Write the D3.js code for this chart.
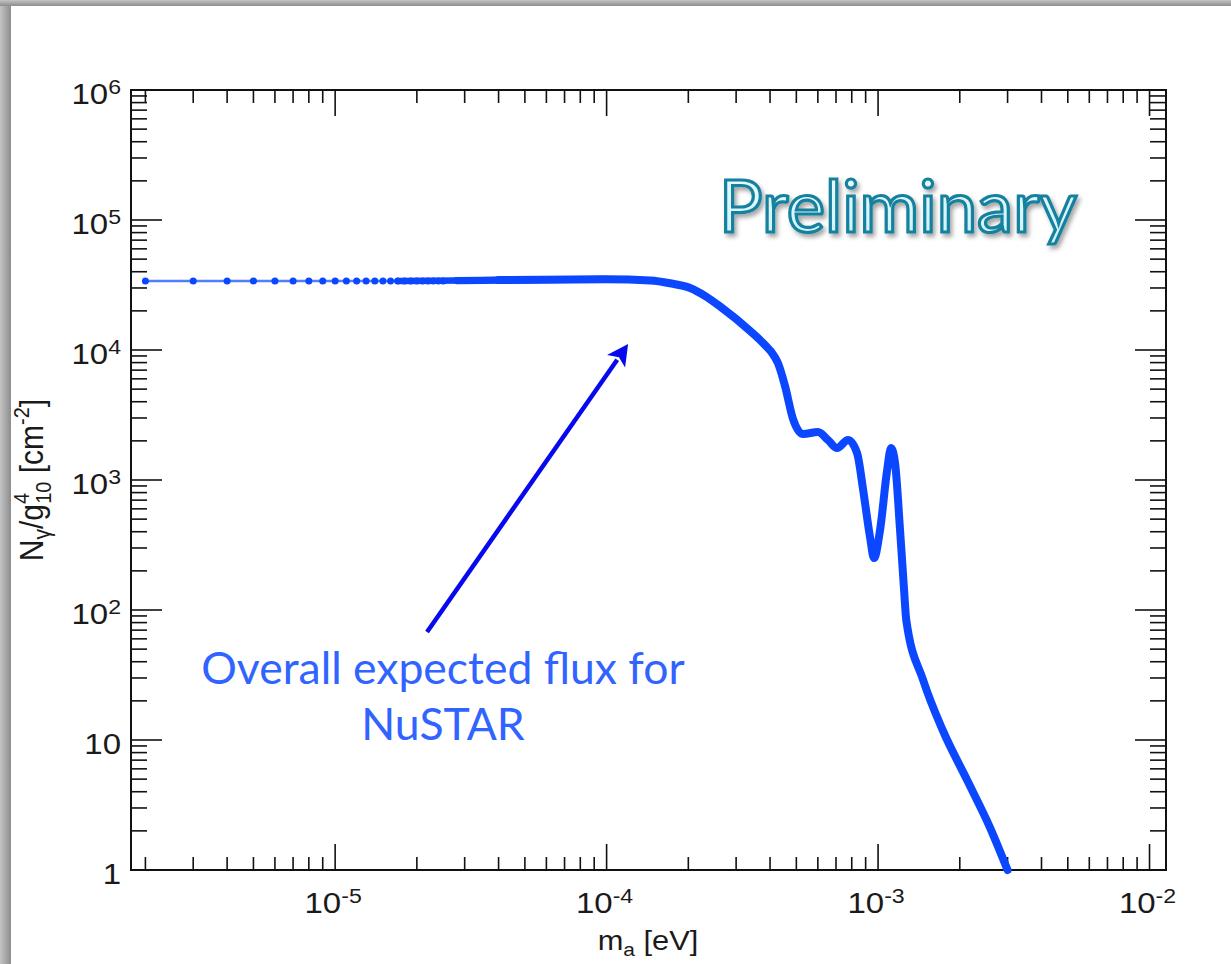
<!DOCTYPE html>
<html>
<head>
<meta charset="utf-8">
<script src="https://cdn.jsdelivr.net/npm/d3@7"></script>
<style>
  html, body { margin: 0; padding: 0; background: #b0b0b0; }
  svg { display: block; }
</style>
</head>
<body>
<svg id="chart" width="1231" height="964"></svg>
<script>
// ---------------- data ----------------
// individual sampled points (visible as separate markers at low mass)
const dotMass = [2e-6, 3e-6, 4e-6, 5e-6, 6e-6, 7e-6, 8e-6, 9e-6, 1e-5, 1.1e-5, 1.2e-5,
                 1.3e-5, 1.4e-5, 1.5e-5, 1.6e-5, 1.7e-5, 1.8e-5, 1.9e-5, 2.0e-5, 2.1e-5,
                 2.2e-5, 2.3e-5, 2.4e-5, 2.5e-5];
const dotFlux = [3.4e4, 3.4e4, 3.4e4, 3.4e4, 3.4e4, 3.4e4, 3.4e4, 3.4e4, 3.4e4, 3.4e4, 3.4e4,
                 3.4e4, 3.4e4, 3.4e4, 3.4e4, 3.4e4, 3.4e4, 3.4e4, 3.4e4, 3.4e4,
                 3.4e4, 3.4e4, 3.4e4, 3.4e4];
// dense part of the curve (markers merge into a thick line)
const curveMass = [1.7e-5, 2.8e-5, 4e-5, 1e-4, 1.45e-4, 1.71e-4, 2.03e-4, 2.31e-4, 2.62e-4, 3.38e-4,
                   3.77e-4, 4.17e-4, 4.28e-4, 4.54e-4, 4.86e-4, 5.29e-4, 6.01e-4, 6.54e-4, 7.06e-4,
                   7.75e-4, 8.37e-4, 8.81e-4, 9.34e-4, 9.66e-4, 1.017e-3, 1.08e-3, 1.116e-3,
                   1.155e-3, 1.205e-3, 1.247e-3, 1.27e-3, 1.465e-3, 1.73e-3, 2.13e-3, 2.58e-3, 3.0e-3];
const curveFlux = [3.4e4, 3.42e4, 3.45e4, 3.5e4, 3.42e4, 3.26e4, 3.0e4, 2.6e4, 2.16e4, 1.40e4,
                   1.13e4, 8.8e3, 7.9e3, 5.3e3, 2.95e3, 2.26e3, 2.34e3, 2.03e3, 1.76e3,
                   2.03e3, 1.61e3, 840, 364, 251, 412, 1190, 1760,
                   1350, 412, 142, 84, 29, 11.9, 4.9, 2.14, 1];
const xDomain = [1.77e-6, 1.15e-2];
const yDomain = [1, 1e6];
const xTickExps = [-5, -4, -3, -2];
const yTickValues = [1, 10, 1e2, 1e3, 1e4, 1e5, 1e6];
const yTickBase = ["1", "10", "10", "10", "10", "10", "10"];
const yTickSup  = ["", "", "2", "3", "4", "5", "6"];
const arrowFrom = [2.18e-5, 67.7];
const arrowTo   = [1.2e-4, 1.11e4];
const noteLines = ["Overall expected flux for", "NuSTAR"];
const stampText = "Preliminary";

// ---------------- layout ----------------
const L = 131, R = 1166, T = 90, B = 870;
const svg = d3.select("#chart");
const defs = svg.append("defs");

// frame
const gL = defs.append("linearGradient").attr("id", "gl").attr("x1", 0).attr("x2", 1).attr("y1", 0).attr("y2", 0);
gL.append("stop").attr("offset", 0).attr("stop-color", "#c4c4c4");
gL.append("stop").attr("offset", 1).attr("stop-color", "#8c8c8c");
const gT = defs.append("linearGradient").attr("id", "gt").attr("x1", 0).attr("x2", 0).attr("y1", 0).attr("y2", 1);
gT.append("stop").attr("offset", 0).attr("stop-color", "#c4c4c4");
gT.append("stop").attr("offset", 1).attr("stop-color", "#8c8c8c");
svg.append("rect").attr("x", 0).attr("y", 0).attr("width", 1231).attr("height", 964).attr("fill", "#b8b8b8");
svg.append("rect").attr("x", 0).attr("y", 0).attr("width", 11).attr("height", 964).attr("fill", "url(#gl)");
svg.append("rect").attr("x", 0).attr("y", 0).attr("width", 1231).attr("height", 6).attr("fill", "url(#gt)");
svg.append("rect").attr("x", 11).attr("y", 6).attr("width", 1220).attr("height", 958).attr("fill", "#ffffff");

const x = d3.scaleLog().domain(xDomain).range([L, R]);
const y = d3.scaleLog().domain(yDomain).range([B, T]);

const axisColor = "#111";
const tickG = svg.append("g").attr("stroke", axisColor).attr("stroke-width", 1.6);

// x ticks (bottom & top, inward)
for (let e = -6; e <= -2; e++) {
  for (let k = 1; k <= 9; k++) {
    const v = k * Math.pow(10, e);
    if (v < xDomain[0] || v > xDomain[1]) continue;
    const len = k === 1 ? 26 : 13;
    const px = x(v);
    tickG.append("line").attr("x1", px).attr("x2", px).attr("y1", B).attr("y2", B - len);
    tickG.append("line").attr("x1", px).attr("x2", px).attr("y1", T).attr("y2", T + len);
  }
}
// y ticks (left & right, inward)
for (let e = 0; e <= 6; e++) {
  for (let k = 1; k <= 9; k++) {
    const v = k * Math.pow(10, e);
    if (v < yDomain[0] || v > yDomain[1]) continue;
    const len = k === 1 ? 31 : 16;
    const py = y(v);
    tickG.append("line").attr("x1", L).attr("x2", L + len).attr("y1", py).attr("y2", py);
    tickG.append("line").attr("x1", R).attr("x2", R - len).attr("y1", py).attr("y2", py);
  }
}
svg.append("rect").attr("x", L).attr("y", T).attr("width", R - L).attr("height", B - T)
  .attr("fill", "none").attr("stroke", axisColor).attr("stroke-width", 2);

// tick labels
const labFont = "'Liberation Sans', Arial, Helvetica, sans-serif";
const labColor = "#1a1a1a";
xTickExps.forEach(ex => {
  const g = svg.append("g").attr("transform", `translate(${x(Math.pow(10, ex)) - 2},913) scale(1.1,1)`);
  const t = g.append("text").attr("text-anchor", "middle").attr("font-family", labFont)
    .attr("font-size", 30).attr("fill", labColor);
  t.append("tspan").text("10");
  t.append("tspan").attr("font-size", 21).attr("dy", -10).text(String(ex));
});
yTickValues.forEach((v, i) => {
  const g = svg.append("g").attr("transform", `translate(121,${y(v) + 14}) scale(1.1,1)`);
  const t = g.append("text").attr("text-anchor", "end").attr("font-family", labFont)
    .attr("font-size", 30).attr("fill", labColor);
  t.append("tspan").text(yTickBase[i]);
  if (yTickSup[i]) t.append("tspan").attr("font-size", 21).attr("dy", -10).text(yTickSup[i]);
});

// axis titles
{
  const t = svg.append("text").attr("transform", "translate(648,950) scale(1.1,1)")
    .attr("text-anchor", "middle").attr("font-family", labFont).attr("font-size", 28).attr("fill", labColor);
  t.append("tspan").text("m");
  t.append("tspan").attr("font-size", 19).attr("dy", 6).text("a");
  t.append("tspan").attr("dy", -6).text(" [eV]");
}
{
  const t = svg.append("text").attr("transform", "translate(43,480) scale(1.1,1) rotate(-90)")
    .attr("text-anchor", "middle").attr("font-family", labFont).attr("font-size", 30).attr("fill", labColor);
  t.append("tspan").text("N");
  t.append("tspan").attr("font-size", 21).attr("dy", 6).text("γ");
  t.append("tspan").attr("dy", -6).text("/g");
  t.append("tspan").attr("font-size", 20).attr("dy", -13).text("4");
  t.append("tspan").attr("font-size", 20).attr("dx", -11).attr("dy", 20).text("10");
  t.append("tspan").attr("dy", -7).text(" [cm");
  t.append("tspan").attr("font-size", 20).attr("dy", -13).text("-2");
  t.append("tspan").attr("dy", 13).text("]");
}

// ---------------- data marks ----------------
const blue = "#0a47ff";
const dots = dotMass.map((m, i) => ({ m, n: dotFlux[i] }));
const curve = curveMass.map((m, i) => ({ m, n: curveFlux[i] }));
const line = d3.line().x(d => x(d.m)).y(d => y(d.n)).curve(d3.curveMonotoneX);

svg.append("path").attr("d", line(dots)).attr("fill", "none")
  .attr("stroke", "#3d70ff").attr("stroke-width", 2.5).attr("stroke-opacity", 0.9);
svg.append("g").selectAll("circle").data(dots).join("circle")
  .attr("cx", d => x(d.m)).attr("cy", d => y(d.n)).attr("r", 3.5).attr("fill", blue);
svg.append("path").attr("d", line(curve.slice(0, 4))).attr("fill", "none")
  .attr("stroke", blue).attr("stroke-width", 6.5).attr("stroke-linecap", "round");
svg.append("path").attr("d", line(curve.slice(1, 4))).attr("fill", "none")
  .attr("stroke", blue).attr("stroke-width", 7.2).attr("stroke-linecap", "round");
svg.append("path").attr("d", line(curve.slice(2))).attr("fill", "none")
  .attr("stroke", blue).attr("stroke-width", 8).attr("stroke-linecap", "round")
  .attr("stroke-linejoin", "round");

// ---------------- annotations ----------------
const ax1 = x(arrowFrom[0]), ay1 = y(arrowFrom[1]);
const ax2 = x(arrowTo[0]), ay2 = y(arrowTo[1]);
const ang = Math.atan2(ay2 - ay1, ax2 - ax1);
const headLen = 21, headW = 11;
const bx = ax2 - headLen * Math.cos(ang), by = ay2 - headLen * Math.sin(ang);
const arrowColor = "#0808ee";
svg.append("line").attr("x1", ax1).attr("y1", ay1).attr("x2", bx + 2 * Math.cos(ang)).attr("y2", by + 2 * Math.sin(ang))
  .attr("stroke", arrowColor).attr("stroke-width", 4.5);
svg.append("path").attr("fill", arrowColor)
  .attr("d", `M${ax2},${ay2} L${bx - headW * Math.sin(ang)},${by + headW * Math.cos(ang)} L${bx + 5 * Math.cos(ang)},${by + 5 * Math.sin(ang)} L${bx + headW * Math.sin(ang)},${by - headW * Math.cos(ang)} Z`);

const noteFont = "Lato, 'Open Sans', sans-serif";
noteLines.forEach((s, i) => {
  svg.append("text").attr("x", 443).attr("y", 684 + i * 56).attr("text-anchor", "middle")
    .attr("font-family", noteFont).attr("font-size", 44.5).attr("fill", "#3063ff").text(s);
});

const f = defs.append("filter").attr("id", "shadow").attr("x", "-10%").attr("y", "-20%").attr("width", "130%").attr("height", "150%");
f.append("feDropShadow").attr("dx", 2.5).attr("dy", 3.5).attr("stdDeviation", 2).attr("flood-color", "#000").attr("flood-opacity", 0.35);
const pg = defs.append("linearGradient").attr("id", "pg").attr("x1", 0).attr("x2", 0).attr("y1", 0).attr("y2", 1);
pg.append("stop").attr("offset", 0).attr("stop-color", "#effdff");
pg.append("stop").attr("offset", 1).attr("stop-color", "#c8f2fb");
svg.append("text").attr("x", 898).attr("y", 232).attr("text-anchor", "middle")
  .attr("font-family", noteFont).attr("font-size", 72.5).attr("fill", "url(#pg)")
  .attr("stroke", "#17809f").attr("stroke-width", 3.2).attr("filter", "url(#shadow)")
  .text(stampText);
</script>
</body>
</html>
